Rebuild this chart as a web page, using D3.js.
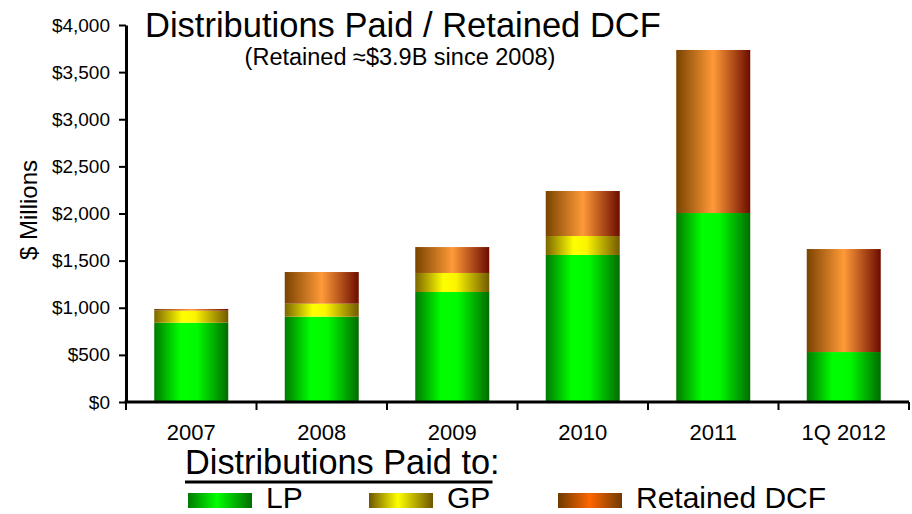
<!DOCTYPE html>
<html>
<head>
<meta charset="utf-8">
<script src="https://cdn.jsdelivr.net/npm/d3@7"></script>
<style>
  html, body { margin: 0; padding: 0; background: #fff; }
  svg { display: block; font-family: "Liberation Sans", Arial, sans-serif; }
</style>
</head>
<body>
<svg id="chart" width="912" height="514"></svg>
<script>
// Distributions paid to LP / GP and retained DCF, $ millions
const categories = ["2007", "2008", "2009", "2010", "2011", "1Q 2012"];
const lpValues = [841, 905, 1167, 1560, 2005, 530];
const gpValues = [128, 138, 202, 201, 0, 0];
const retainedValues = [18, 336, 275, 478, 1730, 1093];
const yTicks = [0, 500, 1000, 1500, 2000, 2500, 3000, 3500, 4000];
const seriesNames = ["LP", "GP", "Retained DCF"];

const rows = categories.map((c, i) => ({
  category: c, LP: lpValues[i], GP: gpValues[i], "Retained DCF": retainedValues[i]
}));

const svg = d3.select("#chart");
const plotLeft = 126, plotRight = 909, plotTop = 25, plotBottom = 402;

const x = d3.scaleBand().domain(categories).range([plotLeft, plotRight])
  .paddingInner(0.433).paddingOuter(0.2165);
const y = d3.scaleLinear().domain([0, 4000]).range([plotBottom, plotTop]);

// Horizontal "cylinder" shading for the bars and legend swatches
const defs = svg.append("defs");
function gradient(id, stops) {
  const g = defs.append("linearGradient").attr("id", id)
    .attr("x1", "0%").attr("x2", "100%").attr("y1", "0%").attr("y2", "0%");
  stops.forEach(([o, c]) => g.append("stop").attr("offset", o).attr("stop-color", c));
}
gradient("g-lp", [["0%", "#007a00"], ["35%", "#00ff00"], ["58%", "#00fa00"], ["100%", "#006c00"]]);
gradient("g-gp", [["0%", "#7c6600"], ["38%", "#ffff00"], ["55%", "#fbf500"], ["100%", "#735a00"]]);
gradient("g-ret", [["0%", "#7a4300"], ["50%", "#ff9a38"], ["100%", "#6c0c00"]]);
gradient("g-lp-leg", [["0%", "#007a00"], ["45%", "#00ff00"], ["100%", "#006c00"]]);
gradient("g-gp-leg", [["0%", "#6e5600"], ["45%", "#ffff00"], ["100%", "#6e5600"]]);
gradient("g-ret-leg", [["0%", "#6e3a00"], ["50%", "#ff6600"], ["100%", "#6e3a00"]]);

const fills = { "LP": "url(#g-lp)", "GP": "url(#g-gp)", "Retained DCF": "url(#g-ret)" };
const legendFills = { "LP": "url(#g-lp-leg)", "GP": "url(#g-gp-leg)", "Retained DCF": "url(#g-ret-leg)" };

const stacked = d3.stack().keys(seriesNames)(rows);

svg.append("g").selectAll("g").data(stacked).join("g")
  .attr("fill", d => fills[d.key])
  .selectAll("rect").data(d => d.filter(p => p[1] > p[0])).join("rect")
  .attr("x", d => x(d.data.category))
  .attr("width", x.bandwidth())
  .attr("y", d => y(d[1]))
  .attr("height", d => y(d[0]) - y(d[1]));

// Y axis
const yAxis = svg.append("g").attr("transform", `translate(${plotLeft},0)`)
  .call(d3.axisLeft(y).tickValues(yTicks).tickFormat(d3.format("$,"))
    .tickSizeInner(7).tickSizeOuter(0).tickPadding(9));
yAxis.select(".domain").attr("stroke", "#000").attr("stroke-width", 3);
yAxis.selectAll(".tick line").attr("stroke", "#000").attr("stroke-width", 2);
yAxis.selectAll("text").attr("font-size", 19).attr("fill", "#000")
  .attr("font-family", "'Liberation Sans', Arial, sans-serif");

// X axis: labels at band centres, ticks on band boundaries
const xAxis = svg.append("g").attr("transform", `translate(0,${plotBottom})`)
  .call(d3.axisBottom(x).tickSize(0).tickPadding(22));
xAxis.select(".domain").remove();
xAxis.selectAll("text").attr("font-size", 22).attr("fill", "#000")
  .attr("font-family", "'Liberation Sans', Arial, sans-serif");

const boundaries = d3.range(categories.length + 1).map(i => plotLeft + i * x.step());
svg.append("g").selectAll("line").data(boundaries).join("line")
  .attr("x1", d => d).attr("x2", d => d)
  .attr("y1", plotBottom).attr("y2", plotBottom + 8)
  .attr("stroke", "#000").attr("stroke-width", 2);
svg.append("line").attr("x1", plotLeft - 1.5).attr("x2", plotRight)
  .attr("y1", plotBottom).attr("y2", plotBottom)
  .attr("stroke", "#000").attr("stroke-width", 3);

// Y axis title
svg.append("text")
  .attr("transform", `translate(37,210) rotate(-90)`)
  .attr("text-anchor", "middle")
  .attr("font-size", 24)
  .text("$ Millions");

// Titles
svg.append("text").attr("x", 145).attr("y", 37)
  .attr("font-size", 34.5).text("Distributions Paid / Retained DCF");
svg.append("text").attr("x", 400).attr("y", 65).attr("text-anchor", "middle")
  .attr("font-size", 23.5).text("(Retained \u2248$3.9B since 2008)");

// Legend
const legTitle = svg.append("text").attr("x", 185).attr("y", 474)
  .attr("font-size", 34.3).text("Distributions Paid to:");
const tw = legTitle.node().getComputedTextLength();
svg.append("line").attr("x1", 185).attr("x2", 185 + tw - 7)
  .attr("y1", 482).attr("y2", 482).attr("stroke", "#000").attr("stroke-width", 3);

const legendX = [188, 369, 558];
const leg = svg.append("g").selectAll("g").data(seriesNames).join("g")
  .attr("transform", (d, i) => `translate(${legendX[i]},0)`);
leg.append("rect").attr("x", 0).attr("y", 493).attr("width", 64).attr("height", 15)
  .attr("fill", d => legendFills[d]);
leg.append("text").attr("x", 78).attr("y", 507.5).attr("font-size", 30).text(d => d);
</script>
</body>
</html>
